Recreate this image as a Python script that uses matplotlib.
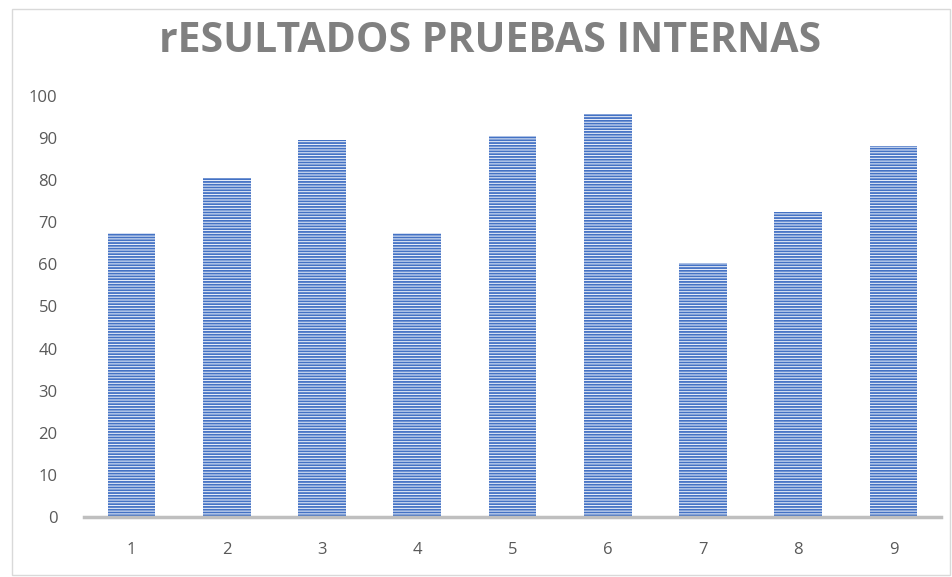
import matplotlib
matplotlib.use('Agg')
import matplotlib.pyplot as plt
from matplotlib.patches import Rectangle

# datos
pruebas = ['1', '2', '3', '4', '5', '6', '7', '8', '9']
resultados = [67.5, 80.5, 89.5, 67.5, 90.5, 95.7, 60.3, 72.5, 88.2]
ticks_y = [0, 10, 20, 30, 40, 50, 60, 70, 80, 90, 100]

plt.rcParams['font.family'] = ['Open Sans', 'DejaVu Sans']
plt.rcParams['hatch.linewidth'] = 1.3
plt.rcParams['hatch.color'] = '#4472C4'

fig = plt.figure(figsize=(9.53, 5.77), dpi=100)
# borde del grafico
fig.patches.append(Rectangle((12/953, 2/577), 938/953, 566/577, transform=fig.transFigure,
                             fill=False, edgecolor='#D9D9D9', linewidth=1))

ax = fig.add_axes([84/953, 1 - 517/577, 857/953, 421/577])
x = range(len(pruebas))
ax.bar(x, resultados, width=0.5, color='#F2F5FC', edgecolor='#4472C4',
       linewidth=0, hatch='------')

ax.set_xlim(-0.5, len(pruebas) - 0.5)
ax.set_ylim(0, 100)
ax.set_xticks(list(x))
ax.set_xticklabels(pruebas)
ax.set_yticks(ticks_y)
ax.tick_params(axis='both', length=0, labelsize=12, colors='#595959')
ax.tick_params(axis='x', pad=18)
ax.tick_params(axis='y', pad=19)
for s in ['top', 'right', 'left']:
    ax.spines[s].set_visible(False)
ax.spines['bottom'].set_color('#BFBFBF')
ax.spines['bottom'].set_linewidth(2.5)

fig.text(0.514, 1 - 42/577, 'rESULTADOS PRUEBAS INTERNAS', ha='center', va='center',
         fontsize=29.5, fontweight='bold', color='#808080')

fig.savefig('out.png', dpi=100, facecolor='white')
